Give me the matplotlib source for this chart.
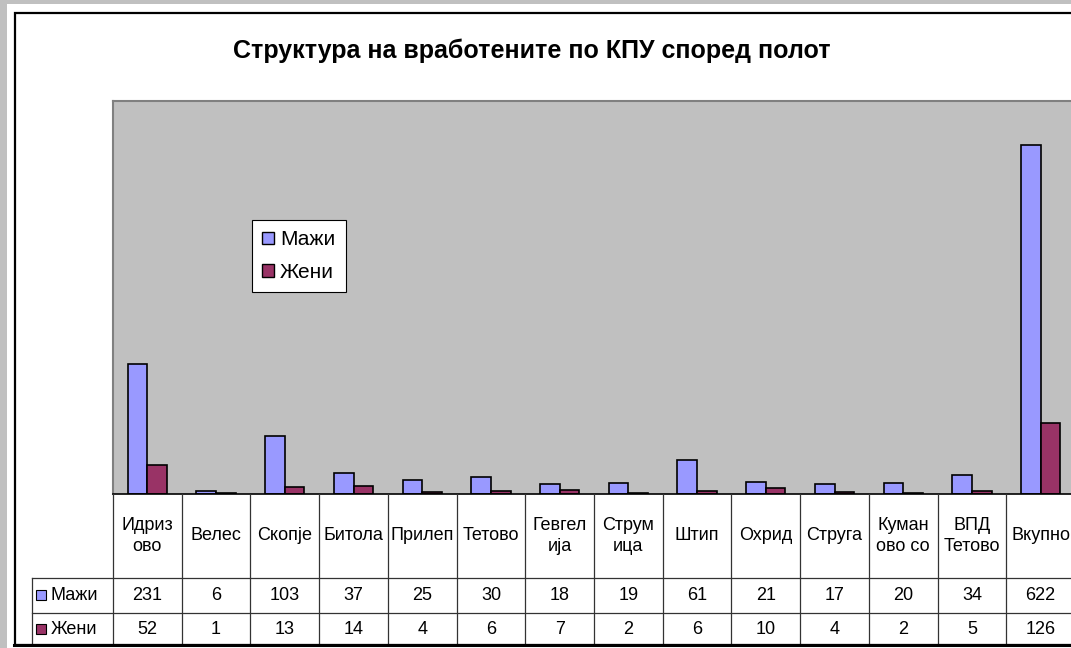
import matplotlib.pyplot as plt
import numpy as np
from matplotlib.patches import Rectangle, Patch
from matplotlib.lines import Line2D

plt.rcParams['font.family'] = ['Liberation Sans', 'DejaVu Sans']

# data
categories = ['Идриз\nово', 'Велес', 'Скопје', 'Битола', 'Прилеп', 'Тетово',
              'Гевгел\nија', 'Струм\nица', 'Штип', 'Охрид', 'Струга',
              'Куман\nово со', 'ВПД\nТетово', 'Вкупно']
men = [231, 6, 103, 37, 25, 30, 18, 19, 61, 21, 17, 20, 34, 622]
women = [52, 1, 13, 14, 4, 6, 7, 2, 6, 10, 4, 2, 5, 126]
series_names = ['Мажи', 'Жени']
colors = ['#9999FF', '#993366']

W, H = 1071, 648
fig = plt.figure(figsize=(W / 100, H / 100), dpi=100)
fig.patch.set_facecolor('#C0C0C0')


def fx(x):
    return x / W


def fy(y):
    return 1 - y / H


# white chart area with black border
fig.patches.append(Rectangle((fx(7), 0), 1, fy(4), transform=fig.transFigure,
                             facecolor='white', edgecolor='none', zorder=-10))
fig.patches.append(Rectangle((fx(15), fy(645)), fx(1100 - 15), (645 - 13) / H,
                             transform=fig.transFigure, facecolor='none',
                             edgecolor='black', linewidth=1.6, zorder=5))
fig.add_artist(Line2D([fx(14), 1], [fy(645), fy(645)], transform=fig.transFigure,
                      color='black', linewidth=2.2, zorder=6))

# plot area
left, right, top, bottom = 113, 1075, 101, 494
ax = fig.add_axes([fx(left), fy(bottom), fx(right - left), (bottom - top) / H])
ax.set_facecolor('#C0C0C0')
x = np.arange(len(categories))
bw = 1 / 3.5
ax.bar(x - bw / 2, men, bw, color=colors[0], edgecolor='black', linewidth=1.2)
ax.bar(x + bw / 2, women, bw, color=colors[1], edgecolor='black', linewidth=1.2)
ax.set_xlim(-0.5, len(categories) - 0.5)
ax.set_ylim(0, 700)
ax.set_xticks([])
ax.set_yticks([])
for s in ['top', 'left', 'right']:
    ax.spines[s].set_color('#808080')
    ax.spines[s].set_linewidth(1.5)
ax.spines['bottom'].set_color('black')
ax.spines['bottom'].set_linewidth(1.2)

handles = [Patch(facecolor=c, edgecolor='black', linewidth=1) for c in colors]
leg = ax.legend(handles, series_names, loc='upper left',
                bbox_to_anchor=((252 - left) / (right - left), 1 - (220 - top) / (bottom - top)),
                fontsize=15, frameon=True, fancybox=False, framealpha=1,
                handlelength=0.55, handleheight=0.55, handletextpad=0.3,
                borderpad=0.5, labelspacing=0.65, borderaxespad=0)
leg.get_frame().set_edgecolor('black')
leg.get_frame().set_linewidth(0.8)

fig.text(fx(532), fy(51), 'Структура на вработените по КПУ според полот',
         ha='center', va='center', fontsize=18, fontweight='bold')

# data table below the plot
tab = fig.add_axes([fx(left), fy(646), fx(right - left), (646 - bottom) / H])
tab.set_xlim(-0.5, len(categories) - 0.5)
tab.set_ylim(152, 0)
tab.axis('off')
lc = '#333333'
r1, r2, r3 = 84, 119, 151
lab_x = -0.5 - (left - 32) / ((right - left) / len(categories))
for i in range(len(categories) + 1):
    tab.plot([i - 0.5, i - 0.5], [0, r3], color=lc, lw=0.9, clip_on=False)
for yy in [r1, r2]:
    tab.plot([lab_x, len(categories) - 0.5], [yy, yy], color=lc, lw=0.9, clip_on=False)
tab.plot([lab_x, lab_x], [r1, r3], color=lc, lw=0.9, clip_on=False)
for i, name in enumerate(categories):
    tab.text(i, r1 / 2, name, ha='center', va='center', fontsize=13, linespacing=1.25)
    tab.text(i, (r1 + r2) / 2, str(men[i]), ha='center', va='center', fontsize=13)
    tab.text(i, (r2 + r3) / 2, str(women[i]), ha='center', va='center', fontsize=13)

# series labels in the table
for (ytop, ybot), name, c in zip([(578, 613), (613, 645)], series_names, colors):
    yc = (ytop + ybot) / 2
    fig.patches.append(Rectangle((fx(36), fy(yc + 4.5)), fx(10), 10 / H,
                                 transform=fig.transFigure, facecolor=c,
                                 edgecolor='black', linewidth=0.8, zorder=3))
    fig.text(fx(51), fy(yc), name, ha='left', va='center', fontsize=13)

fig.savefig('out.png', dpi=100, facecolor=fig.get_facecolor())
